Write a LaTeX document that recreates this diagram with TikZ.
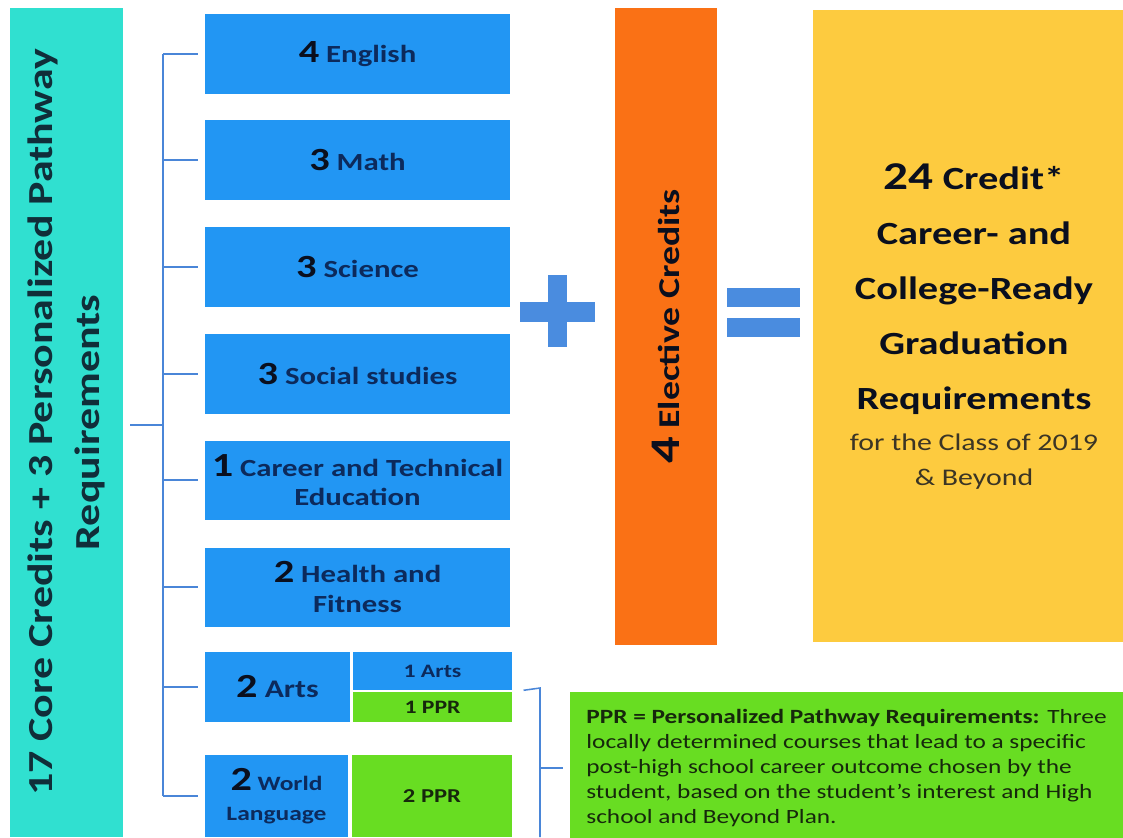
\documentclass[tikz,border=0pt]{standalone}
\usepackage{fontspec}
\setmainfont{Carlito}[FakeStretch=1.25]
\usetikzlibrary{positioning}

\definecolor{coreteal}{HTML}{30E0D0}
\definecolor{subjblue}{HTML}{2296F3}
\definecolor{subjtext}{HTML}{0C2A5C}
\definecolor{numblack}{HTML}{0A0F1E}
\definecolor{linkblue}{HTML}{4A86D8}
\definecolor{opblue}{HTML}{4A8CDF}
\definecolor{electorange}{HTML}{FA7115}
\definecolor{gradyellow}{HTML}{FDCB3F}
\definecolor{pprgreen}{HTML}{68DD22}
\definecolor{pprtext}{HTML}{16280C}

\newcommand{\cred}[2][23]{{\fontsize{#1}{#1}\selectfont\color{numblack}#2}}

\begin{document}
\begin{tikzpicture}[x=0.025cm, y=-0.025cm,
    subj/.style={fill=subjblue, text=subjtext, inner sep=0pt, align=center,
        minimum width=7.625cm, minimum height=1.975cm,
        font=\fontsize{17.5}{21}\selectfont\bfseries},
    half/.style={fill=subjblue, text=subjtext, inner sep=0pt, align=center,
        font=\fontsize{18}{20}\selectfont\bfseries},
    pprbox/.style={fill=pprgreen, text=pprtext, inner sep=0pt, align=center,
        font=\fontsize{14}{16}\selectfont\bfseries},
    bracket/.style={draw=linkblue, line width=1.1pt}]
\useasboundingbox (0,0) rectangle (1123,837);

    % core column
    \node[rotate=90, fill=coreteal, text=numblack!85!coreteal, align=center,
        minimum width=20.725cm, minimum height=2.825cm,
        font=\fontsize{25}{33}\selectfont\bfseries] (core) at (66.5,422.5)
        {17 Core Credits + 3 Personalized Pathway\\Requirements};

    \node[subj] (eng)  at (357.5,54)  {\cred{4} English};
    \node[subj] (math) at (357.5,160) {\cred{3} Math};
    \node[subj] (sci)  at (357.5,267) {\cred{3} Science};
    \node[subj] (soc)  at (357.5,374) {\cred{3} Social studies};
    \node[subj] (cte)  at (357.5,480)
        {\cred[24]{1} Career and Technical\\Education};
    \node[subj] (hlth) at (357.5,587) {\cred{2} Health and\\Fitness};

    \node[half, minimum width=3.625cm, minimum height=1.75cm] (arts)
        at (277.5,687) {\cred[24]{2} Arts};
    \node[half, minimum width=3.975cm, minimum height=0.95cm,
        font=\fontsize{13.5}{15}\selectfont\bfseries] (artsa)
        at (432.5,671) {1 Arts};
    \node[pprbox, minimum width=3.975cm, minimum height=0.75cm,
        font=\fontsize{13.5}{15}\selectfont\bfseries] (artsppr)
        at (432.5,707) {1 PPR};

    \node[half, minimum width=3.575cm, minimum height=2.05cm,
        font=\fontsize{14.5}{21}\selectfont\bfseries] (world)
        at (276.5,796) {\cred[24]{2} World\\Language};
    \node[pprbox, minimum width=4cm, minimum height=2.05cm] (worldppr)
        at (432,796) {2 PPR};

    % bracket on the left
    \coordinate (spine) at (163,425);
    \draw[bracket] ([xshift=5]core.south |- spine) -- (spine);
    \draw[bracket] (spine |- eng.west) -- (spine |- world.west);
    \foreach \b in {eng,math,sci,soc,cte,hlth,arts,world}
        \draw[bracket] ([xshift=-5]\b.west) -- (spine |- \b.west);

    % plus and equals
    \fill[opblue] (520,302) rectangle (595,322);
    \fill[opblue] (548,275) rectangle (567,347);
    \fill[opblue] (727,288) rectangle (800,307);
    \fill[opblue] (727,318) rectangle (800,337);

    \node[rotate=90, fill=electorange, text=numblack, align=center,
        minimum width=15.925cm, minimum height=2.55cm,
        font=\fontsize{21.5}{24}\selectfont\bfseries] (elect) at (666,326.5)
        {\cred[30]{4} Elective Credits};

    \node[fill=gradyellow, minimum width=7.75cm, minimum height=15.8cm]
        (grad) at (968,326) {};
    \node[align=center, text=numblack, font=\fontsize{23}{39}\selectfont\bfseries]
        (total) at (974,289)
        {\cred[28]{24} Credit*\\Career- and\\College-Ready\\Graduation\\Requirements};
    \node[align=center, text=numblack!80!gradyellow,
        font=\fontsize{17}{25}\selectfont] (classof) at (974,462)
        {for the Class of 2019\\\& Beyond};

    % PPR note
    \node[fill=pprgreen, text=pprtext, align=left, inner sep=0pt,
        minimum width=13.825cm, minimum height=3.8cm,
        font=\fontsize{14.4}{17.8}\selectfont] (note) at (846.5,768)
        {\textbf{PPR = Personalized Pathway Requirements:} Three\\
        locally determined courses that lead to a specific\\
        post-high school career outcome chosen by the\\
        student, based on the student’s interest and High\\
        school and Beyond Plan.};

    \coordinate (pprspine) at (540,688);
    \draw[bracket] ([xshift=8]artsa.south east) -- (pprspine)
        -- (pprspine |- 0,837);
    \draw[bracket] (pprspine |- note.west) -- ([xshift=-5]note.west);
\end{tikzpicture}
\end{document}
